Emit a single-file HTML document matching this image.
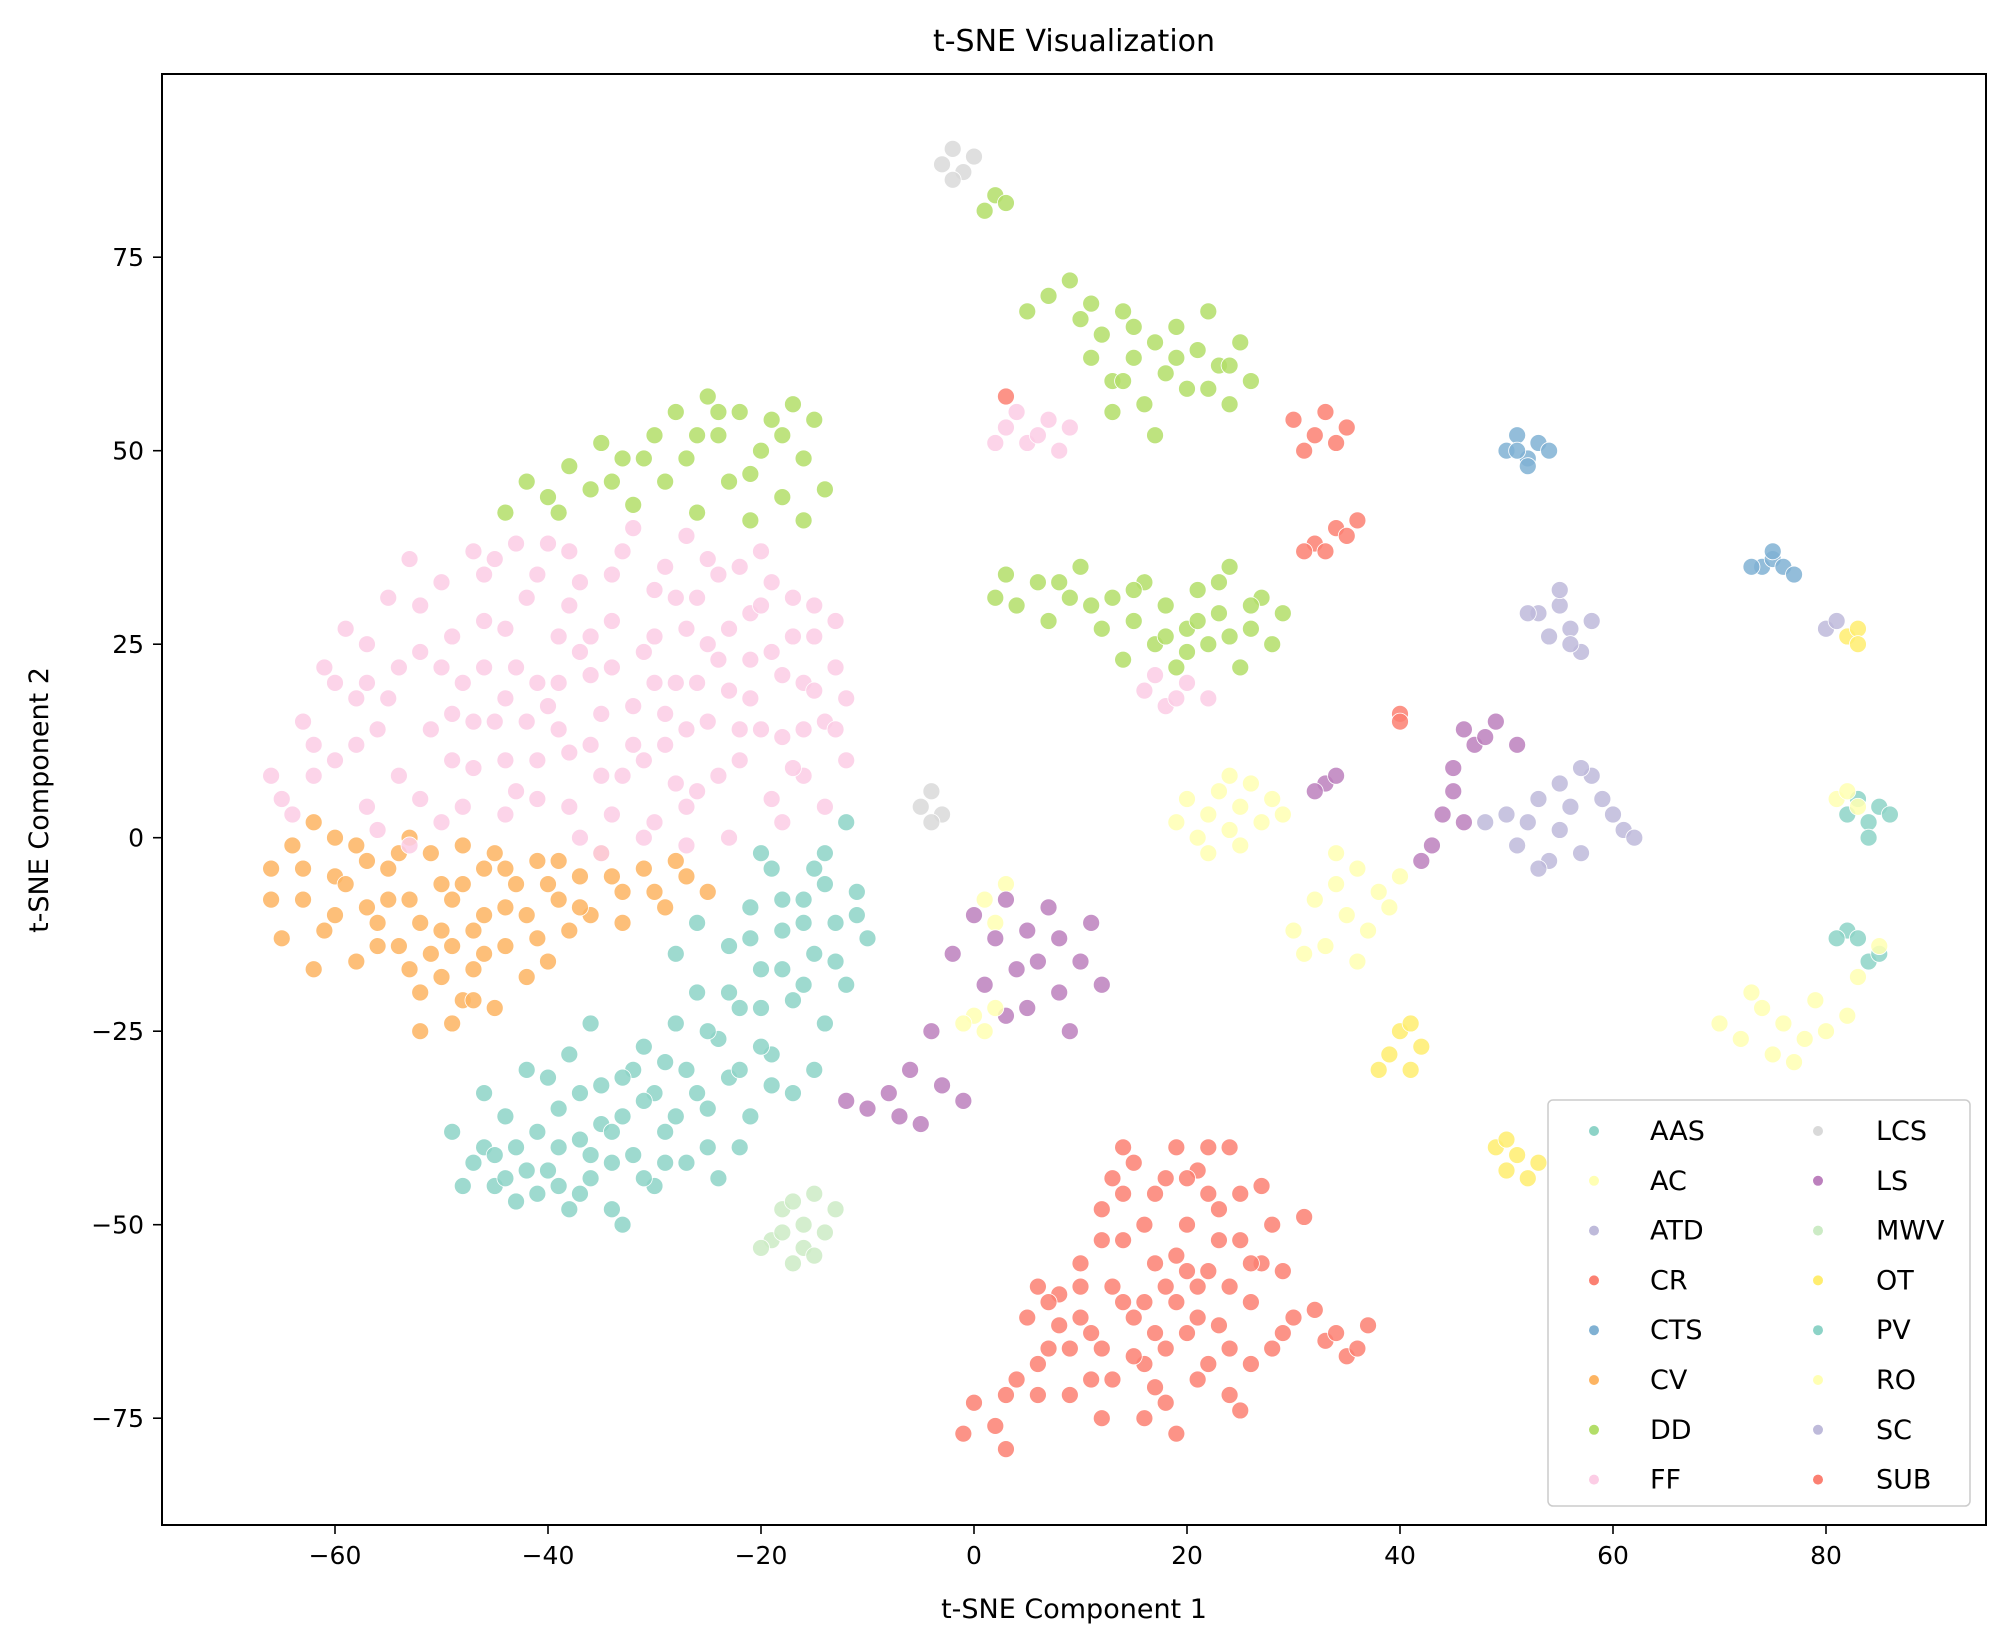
<!DOCTYPE html>
<html><head><meta charset="utf-8"><style>
body{margin:0;background:#fff;}
svg text{font-family:"DejaVu Sans","Liberation Sans",sans-serif;fill:#000;}
</style></head><body>
<svg id="chart" width="2006" height="1640" viewBox="0 0 2006 1640" xmlns="http://www.w3.org/2000/svg">
<rect width="2006" height="1640" fill="#fff"/>
<text x="1074" y="51" font-size="30" text-anchor="middle">t-SNE Visualization</text>
<g id="points"></g>
<rect x="162" y="74" width="1824" height="1451" fill="none" stroke="#000" stroke-width="2"/>
<g id="xticks"></g>
<g id="yticks"></g>
<text x="1074" y="1618" font-size="27" text-anchor="middle">t-SNE Component 1</text>
<text transform="translate(48,800) rotate(-90)" font-size="27" text-anchor="middle">t-SNE Component 2</text>
<g id="legend"></g>
</svg>
<script>
const categories=["AAS","AC","ATD","CR","CTS","CV","DD","FF","LCS","LS","MWV","OT","PV","RO","SC","SUB"];
const colors=["#8dd3c7","#ffffb3","#bebada","#fb8072","#80b1d3","#fdb462","#b3de69","#fccde5","#d9d9d9","#bc80bd","#ccebc5","#ffed6f","#8dd3c7","#ffffb3","#bebada","#fb8072"];
const xTicks=[-60,-40,-20,0,20,40,60,80];
const yTicks=[-75,-50,-25,0,25,50,75];
const ptsAAS="-49,-38 -47,-42 -45,-45 -44,-36 -43,-40 -42,-30 -41,-46 -40,-43 -39,-35 -38,-48 -38,-28 -37,-39 -36,-44 -35,-32 -34,-48 -33,-36 -32,-41 -31,-27 -30,-45 -30,-33 -29,-38 -28,-24 -27,-42 -27,-30 -26,-20 -25,-35 -24,-26 -23,-14 -23,-31 -22,-22 -21,-9 -21,-36 -20,-17 -19,-28 -19,-4 -18,-12 -17,-21 -17,-33 -16,-8 -15,-15 -14,-2 -14,-24 -13,-11 -12,-19 -11,-7 -12,2 -46,-33 -33,-50 -36,-24 -24,-44 -15,-30 -26,-11 -28,-15 -10,-13 -40,-31 -44,-44 -20,-2 -42,-43 -39,-40 -35,-37 -31,-34 -37,-46 -29,-42 -25,-40 -22,-30 -18,-17 -16,-11 -14,-6 -20,-22 -48,-45 -46,-40 -34,-42 -32,-30 -45,-41 -43,-47 -41,-38 -39,-45 -37,-33 -36,-41 -34,-38 -33,-31 -31,-44 -29,-29 -28,-36 -26,-33 -25,-25 -23,-20 -22,-40 -20,-27 -18,-8 -16,-19 -15,-4 -13,-16 -11,-10 -21,-13 -19,-32";
const ptsAC="19,2 20,5 21,0 22,3 23,6 24,1 25,4 26,7 27,2 28,5 25,-1 22,-2 24,8 29,3 30,-12 32,-8 33,-14 34,-6 35,-10 36,-4 37,-12 38,-7 36,-16 39,-9 31,-15 34,-2 40,-5 1,-8 2,-11 3,-6";
const ptsATD="53,29 54,26 55,30 56,27 57,24 55,32 58,28 56,25 52,29 80,27 81,28";
const ptsCR="0,-73 2,-76 4,-70 3,-79 5,-62 7,-66 8,-59 9,-72 10,-55 11,-64 12,-48 13,-58 13,-70 14,-52 15,-62 15,-42 16,-75 17,-55 17,-46 18,-66 19,-40 19,-60 20,-50 21,-70 21,-43 22,-56 23,-63 23,-48 24,-40 24,-72 25,-52 26,-60 27,-45 28,-66 29,-56 30,-62 31,-49 33,-65 35,-67 37,-63 14,-40 18,-73 11,-70 6,-72 26,-68 20,-64 16,-60 -1,-77 10,-62 12,-66 16,-68 19,-54 22,-46 18,-44 21,-58 24,-66 27,-55 9,-66 7,-60 14,-46 23,-52 17,-64 3,-72 6,-68 8,-63 10,-58 12,-52 14,-60 15,-67 16,-50 17,-71 18,-58 20,-44 20,-56 21,-62 22,-68 22,-40 24,-58 25,-46 26,-55 28,-50 29,-64 32,-61 34,-64 36,-66 12,-75 19,-77 25,-74 6,-58 13,-44";
const ptsCTS="50,50 51,52 52,49 53,51 52,48 51,50 54,50 74,35 75,36 76,35 77,34 73,35 75,37";
const ptsCV="-66,-4 -64,-1 -63,-8 -62,2 -61,-12 -60,-5 -58,-16 -58,-1 -57,-9 -55,-4 -54,-14 -53,-8 -52,-20 -51,-2 -50,-12 -49,-24 -48,-6 -47,-17 -46,-10 -45,-22 -45,-2 -44,-14 -43,-6 -42,-10 -41,-3 -40,-16 -39,-8 -38,-12 -37,-5 -36,-10 -35,-2 -33,-7 -31,-4 -29,-9 -27,-5 -50,-18 -56,-11 -48,-1 -53,0 -59,-6 -62,-17 -66,-8 -52,-25 -47,-12 -42,-18 -65,-13 -60,0 -55,-8 -49,-8 -46,-4 -44,-9 -40,-6 -34,-5 -30,-7 -25,-7 -51,-15 -48,-21 -63,-4 -60,-10 -57,-3 -56,-14 -54,-2 -52,-11 -50,-6 -47,-21 -46,-15 -44,-4 -41,-13 -39,-3 -37,-9 -33,-11 -28,-3 -49,-14 -53,-17";
const ptsDD="-44,42 -42,46 -40,44 -38,48 -36,45 -35,51 -33,49 -32,43 -30,52 -29,46 -28,55 -27,49 -26,42 -25,57 -24,52 -23,46 -22,55 -21,41 -20,50 -19,54 -18,44 -17,56 -16,49 -16,41 -15,54 -14,45 7,70 9,72 10,67 11,62 12,65 13,59 14,68 15,62 16,56 17,64 18,60 19,66 20,58 21,63 22,68 23,61 24,56 25,64 26,59 13,55 17,52 5,68 3,34 4,30 6,33 7,28 9,31 10,35 12,27 13,31 14,23 15,28 16,33 17,25 18,30 19,22 20,27 21,32 22,25 23,29 24,35 25,22 26,27 27,31 28,25 29,29 2,31 1,81 2,83 3,82 -39,42 -34,46 -31,49 -26,52 -21,47 -18,52 -24,55 11,69 15,66 19,62 22,58 24,61 14,59 8,33 11,30 15,32 18,26 21,28 24,26 26,30 20,24 23,33";
const ptsFF="-63,15 -62,8 -64,3 -60,20 -58,12 -57,4 -59,27 -55,31 -55,18 -54,8 -52,24 -51,14 -50,2 -50,33 -48,20 -47,9 -46,28 -45,36 -45,15 -44,3 -43,22 -42,31 -41,10 -40,38 -40,17 -39,26 -38,4 -37,33 -36,12 -36,21 -35,-2 -34,28 -33,37 -33,8 -32,17 -31,24 -30,2 -30,32 -29,12 -28,20 -27,39 -27,27 -26,6 -25,15 -24,34 -24,23 -23,0 -22,10 -21,29 -21,18 -20,37 -19,5 -19,24 -18,13 -17,31 -16,20 -16,8 -15,26 -14,15 -13,22 -12,10 -61,22 -56,1 -53,-1 -49,26 -47,15 -43,38 -41,5 -38,30 -35,16 -32,40 -29,35 -28,7 -26,31 -23,19 -20,14 -18,2 -15,30 -12,18 -66,8 -53,36 -47,37 -57,25 -44,10 -39,20 -34,22 -31,10 -25,25 -22,35 -17,26 -14,4 -37,0 -42,15 -58,18 -52,5 -49,10 -46,22 -38,11 -34,3 -30,20 -27,14 -24,8 -21,23 -19,33 -36,26 -41,34 -28,31 -16,14 -13,28 -60,10 -56,14 -54,22 -52,30 -49,16 -48,4 -46,34 -44,27 -43,6 -41,20 -39,14 -37,24 -35,8 -34,34 -32,12 -30,26 -29,16 -27,4 -26,20 -25,36 -23,27 -22,14 -20,30 -18,21 -17,9 -15,19 -13,14 -38,37 -44,18 -50,22 -62,12 -57,20 -65,5 -31,0 -27,-1 3,53 5,51 7,54 8,50 6,52 4,55 9,53 2,51 16,19 18,17 20,20 19,18 17,21 22,18";
const ptsLCS="-3,87 -2,89 -1,86 0,88 -2,85 -5,4 -4,6 -3,3 -4,2";
const ptsLS="-2,-15 0,-10 1,-19 2,-13 3,-8 4,-17 5,-22 5,-12 6,-16 7,-9 8,-20 8,-13 9,-25 10,-16 11,-11 12,-19 3,-23 -4,-25 -6,-30 -8,-33 -10,-35 -12,-34 -5,-37 -3,-32 -1,-34 -7,-36 42,-3 43,-1 44,3 45,6 46,2 45,9 47,12 48,13 49,15 46,14 51,12 33,7 34,8 32,6";
const ptsMWV="-19,-52 -18,-48 -17,-55 -16,-50 -15,-46 -14,-51 -13,-48 -16,-53 -18,-51 -15,-54 -20,-53 -17,-47";
const ptsOT="39,-28 40,-25 41,-30 42,-27 41,-24 38,-30 49,-40 50,-43 51,-41 52,-44 50,-39 53,-42 82,26 83,27 83,25";
const ptsPV="82,3 84,2 85,4 83,5 86,3 84,0 82,-12 83,-13 81,-13 84,-16 85,-15";
const ptsRO="0,-23 1,-25 -1,-24 2,-22 70,-24 72,-26 74,-22 75,-28 76,-24 78,-26 79,-21 80,-25 82,-23 83,-18 73,-20 77,-29 85,-14 81,5 82,6 83,4";
const ptsSC="50,3 51,-1 52,2 53,5 54,-3 55,7 56,4 57,-2 58,8 59,5 60,3 61,1 53,-4 55,1 57,9 62,0 48,2";
const ptsSUB="30,54 32,52 33,55 34,51 35,53 31,50 32,38 33,37 34,40 35,39 36,41 31,37 40,16 40,15 3,57";
const seriesPts=[ptsAAS,ptsAC,ptsATD,ptsCR,ptsCTS,ptsCV,ptsDD,ptsFF,ptsLCS,ptsLS,ptsMWV,ptsOT,ptsPV,ptsRO,ptsSC,ptsSUB];

const NS="http://www.w3.org/2000/svg";
const X0=974, XS=10.65, Y0=837.7, YS=7.74;
function sx(v){return X0+v*XS;}
function sy(v){return Y0-v*YS;}
const pg=document.getElementById('points');
seriesPts.forEach((s,i)=>{
  s.trim().split(/\s+/).forEach(p=>{
    const [a,b]=p.split(',').map(Number);
    const c=document.createElementNS(NS,'circle');
    
    
    c.setAttribute('cx',sx(a));c.setAttribute('cy',sy(b));c.setAttribute('r',8.5);
    c.setAttribute('fill',colors[i]);c.setAttribute('fill-opacity','0.85');
    c.setAttribute('stroke','#fff');c.setAttribute('stroke-width','0.8');
    pg.appendChild(c);
  });
});
const xg=document.getElementById('xticks');
xTicks.forEach(t=>{
  const l=document.createElementNS(NS,'line');
  
  
  l.setAttribute('x1',sx(t));l.setAttribute('x2',sx(t));l.setAttribute('y1',1525);l.setAttribute('y2',1534);l.setAttribute('stroke','#000');l.setAttribute('stroke-width','1.6');
  xg.appendChild(l);
  const tx=document.createElementNS(NS,'text');
  
  
  tx.setAttribute('x',sx(t));tx.setAttribute('y',1564);tx.setAttribute('font-size','25');tx.setAttribute('text-anchor','middle');
  tx.textContent=t<0?'\u2212'+(-t):String(t);
  xg.appendChild(tx);
});
const yg=document.getElementById('yticks');
yTicks.forEach(t=>{
  const l=document.createElementNS(NS,'line');
  
  
  l.setAttribute('x1',153);l.setAttribute('x2',162);l.setAttribute('y1',sy(t));l.setAttribute('y2',sy(t));l.setAttribute('stroke','#000');l.setAttribute('stroke-width','1.6');
  yg.appendChild(l);
  const tx=document.createElementNS(NS,'text');
  
  
  tx.setAttribute('x',144);tx.setAttribute('y',sy(t)+9);tx.setAttribute('font-size','25');tx.setAttribute('text-anchor','end');
  tx.textContent=t<0?'\u2212'+(-t):String(t);
  yg.appendChild(tx);
});
const lg=document.getElementById('legend');
const box=document.createElementNS(NS,'rect');


box.setAttribute('x',1548);box.setAttribute('y',1100);box.setAttribute('width',422);box.setAttribute('height',406);box.setAttribute('rx',5);
box.setAttribute('fill','#fff');box.setAttribute('fill-opacity','0.85');box.setAttribute('stroke','#ccc');box.setAttribute('stroke-width','1.5');
lg.appendChild(box);
categories.forEach((c,i)=>{
  const col=Math.floor(i/8), row=i%8;
  const y=1131+row*49.8;
  const mx=col?1818:1594, tx=col?1876:1650;
  const m=document.createElementNS(NS,'circle');
  
  
  m.setAttribute('cx',mx);m.setAttribute('cy',y);m.setAttribute('r',5);m.setAttribute('fill',colors[i]);
  lg.appendChild(m);
  const t=document.createElementNS(NS,'text');
  
  
  t.setAttribute('x',tx);t.setAttribute('y',y+9);t.setAttribute('font-size','27');
  t.textContent=c;
  lg.appendChild(t);
});
</script>
</body></html>
